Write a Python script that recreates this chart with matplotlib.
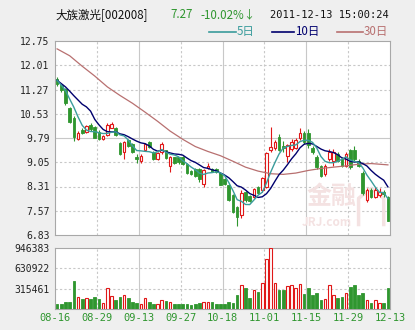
import matplotlib
matplotlib.use('Agg')
import matplotlib.pyplot as plt
import numpy as np
import pandas as pd
from matplotlib.lines import Line2D
from matplotlib.patches import Rectangle

plt.rcParams['font.family'] = ['Noto Sans CJK SC', 'DejaVu Sans']

# daily candles, 2011-08-16 .. 2011-12-13
opens = [11.58, 11.40, 11.29, 10.71, 10.40, 9.77, 10.03, 9.98, 10.19, 10.14,
         9.98, 9.77, 9.88, 10.10, 10.08, 9.64, 9.35, 9.72, 9.61, 9.20,
         9.10, 9.43, 9.66, 9.35, 9.16, 9.35, 9.41, 8.94, 9.20, 9.20,
         9.20, 8.99, 8.78, 8.85, 8.85, 8.40, 8.86, 8.85, 8.85, 8.73,
         8.55, 8.36, 8.05, 7.68, 7.43, 8.13, 8.02, 8.00, 8.31, 8.20,
         8.28, 9.41, 9.47, 9.83, 9.55, 9.25, 9.45, 9.50, 9.78, 9.94,
         9.95, 9.50, 9.20, 8.94, 8.68, 9.15, 9.10, 9.31, 9.15, 8.94,
         9.41, 9.41, 9.10, 8.73, 7.89, 8.20, 8.00, 8.05, 8.15, 8.00]
highs = [11.65, 11.45, 11.32, 10.75, 10.45, 10.00, 10.08, 10.20, 10.26, 10.17,
         10.02, 9.87, 10.26, 10.28, 10.12, 9.68, 9.70, 9.76, 9.64, 9.30,
         9.30, 9.64, 9.70, 9.38, 9.35, 9.66, 9.43, 9.25, 9.22, 9.22,
         9.23, 9.02, 8.80, 8.88, 8.88, 8.85, 9.02, 8.88, 8.87, 8.76,
         8.58, 8.38, 8.08, 7.72, 8.20, 8.16, 8.05, 8.26, 8.34, 8.60,
         9.35, 10.14, 9.72, 9.90, 9.70, 9.62, 9.75, 9.80, 10.10, 10.00,
         10.05, 9.55, 9.28, 8.98, 9.00, 9.45, 9.45, 9.35, 9.20, 9.36,
         9.45, 9.55, 9.15, 8.78, 8.25, 8.25, 8.30, 8.25, 8.20, 8.02]
lows = [11.38, 11.20, 10.80, 10.25, 9.69, 9.72, 9.92, 9.95, 10.00, 9.78,
        9.74, 9.74, 9.85, 10.08, 9.85, 9.27, 9.16, 9.52, 9.33, 9.03,
        9.02, 9.40, 9.48, 9.13, 9.13, 9.30, 9.15, 8.75, 9.00, 9.00,
        8.97, 8.70, 8.66, 8.60, 8.45, 8.30, 8.84, 8.74, 8.72, 8.35,
        8.35, 7.86, 7.50, 7.10, 7.35, 7.85, 7.84, 7.97, 8.07, 8.15,
        8.25, 9.35, 9.42, 9.38, 9.35, 9.05, 9.40, 9.45, 9.72, 9.62,
        9.50, 9.30, 8.85, 8.60, 8.62, 9.10, 8.95, 9.05, 8.90, 8.90,
        8.85, 9.10, 8.90, 8.05, 7.85, 7.95, 7.95, 8.00, 8.00, 7.25]
closes = [11.43, 11.24, 10.87, 10.29, 9.82, 9.95, 9.95, 10.16, 10.06, 9.80,
          9.77, 9.84, 10.19, 10.22, 9.88, 9.30, 9.68, 9.56, 9.35, 9.15,
          9.25, 9.60, 9.51, 9.16, 9.32, 9.60, 9.18, 9.22, 9.04, 9.05,
          9.00, 8.73, 8.70, 8.63, 8.53, 8.80, 8.95, 8.76, 8.75, 8.37,
          8.38, 7.90, 7.52, 7.37, 8.12, 7.90, 7.88, 8.22, 8.10, 8.57,
          9.32, 9.52, 9.66, 9.43, 9.48, 9.57, 9.68, 9.73, 9.94, 9.68,
          9.57, 9.36, 8.89, 8.63, 8.94, 9.36, 9.36, 9.10, 8.94, 9.31,
          8.89, 9.15, 8.94, 8.10, 8.20, 8.00, 8.20, 8.15, 8.08, 7.27]
volumes = [78000, 78000, 108000, 108000, 440000, 186000, 160000, 170000, 150000, 186000,
           155000, 93000, 320000, 200000, 140000, 186000, 217000, 165000, 108000, 93000,
           83000, 165000, 108000, 83000, 78000, 134000, 124000, 108000, 72000, 72000,
           72000, 72000, 67000, 72000, 88000, 108000, 114000, 114000, 78000, 78000,
           72000, 103000, 88000, 217000, 372000, 331000, 176000, 295000, 259000, 398000,
           776000, 946383, 398000, 295000, 295000, 362000, 372000, 320000, 383000, 228000,
           320000, 217000, 243000, 140000, 155000, 372000, 217000, 176000, 191000, 243000,
           346000, 372000, 217000, 243000, 134000, 88000, 134000, 88000, 88000, 320000]

# moving averages before a full window exists
ma5_head = [11.55, 11.40, 11.24, 10.98]
ma10_head = [11.55, 11.45, 11.35, 11.22, 11.08, 10.95, 10.82, 10.74, 10.61]
# 30-day average at some bars (1-based bar number)
ma30_bar = [1, 4, 7, 10, 13, 16, 19, 22, 25, 28, 31, 34, 37, 40, 43, 46, 49, 52,
            55, 58, 61, 64, 67, 70, 73, 76, 80]
ma30_val = [12.51, 12.30, 11.98, 11.68, 11.35, 11.09, 10.85, 10.58, 10.30, 10.00,
            9.75, 9.53, 9.38, 9.25, 9.08, 8.90, 8.78, 8.70, 8.68, 8.72, 8.80,
            8.86, 8.90, 8.94, 8.99, 9.01, 8.97]

date_labels = ['08-16', '08-29', '09-13', '09-27', '10-18', '11-01', '11-15', '11-29', '12-13']
price_ticks = [6.83, 7.57, 8.31, 9.05, 9.79, 10.53, 11.27, 12.01, 12.75]
vol_ticks = [315461, 630922, 946383]

RED = '#e01818'
GREEN = '#2f962f'
TEAL = '#3a9c9c'
NAVY = '#00006e'
BROWN = '#b87070'
GRID = '#c8c8c8'
MARK = '#f4e2e2'

W, H = 415, 330


def fx(px):
  return px / W


def fy(py):
  return 1 - py / H


def style_axes(ax):
  ax.set_facecolor('white')
  for s in ax.spines.values():
    s.set_color('#a8a8a8')
    s.set_linewidth(0.8)
  ax.tick_params(length=0, labelsize=7, colors='#222222', pad=4)


def vgrid(ax, n):
  xt = np.linspace(-0.5, n - 0.5, len(date_labels))
  for k, x in enumerate(xt[1:-1], start=1):
    ax.axvline(x, color=GRID, lw=0.8, ls='-' if k % 2 == 0 else (0, (2, 2)), zorder=0)
  return xt


def draw_plot():
  n = len(closes)
  xs = np.arange(n)
  o = np.array(opens)
  c = np.array(closes)
  up = c >= o

  cl = pd.Series(closes)
  ma5 = cl.rolling(5).mean().to_numpy()
  ma5[:4] = ma5_head
  ma10 = cl.rolling(10).mean().to_numpy()
  ma10[:9] = ma10_head

  fig = plt.figure(figsize=(W / 100, H / 100), dpi=100, facecolor='#efefef')
  ax = fig.add_axes([fx(55), fy(235), fx(335), 194 / H])
  axv = fig.add_axes([fx(55), fy(309), fx(335), 61 / H])

  # price panel
  style_axes(ax)
  ax.set_xlim(-0.5, n - 0.5)
  ax.set_ylim(price_ticks[0], price_ticks[-1])
  ax.set_yticks(price_ticks)
  ax.set_yticklabels(['%.2f' % t for t in price_ticks], family='DejaVu Sans Mono')
  ax.set_xticks([])
  for k, t in enumerate(price_ticks[1:-1], start=1):
    ax.axhline(t, color=GRID, lw=0.8, ls='-' if k == 4 else (0, (2, 2)), zorder=0)
  vgrid(ax, n)

  # site watermark
  ax.text(65.5, 7.98, '金融', fontsize=18, color=MARK, ha='center', va='center',
          family='Noto Sans CJK SC', weight='bold', zorder=1)
  ax.text(64.5, 7.20, 'JRJ.com', fontsize=8.5, color=MARK, ha='center', va='center',
          weight='bold', style='italic', zorder=1)
  ax.plot([72, 72, 75, 78, 78], [7.15, 7.95, 8.25, 7.95, 7.15], color=MARK, lw=2.5, zorder=1)

  ax.vlines(xs, lows, highs, colors=[RED if u else GREEN for u in up], lw=0.8, zorder=3)
  bw = 0.62
  for i in range(n):
    lo, hi = min(o[i], c[i]), max(o[i], c[i])
    h = max(hi - lo, 0.012)
    if up[i]:
      r = Rectangle((i - bw / 2, lo), bw, h, facecolor='white', edgecolor=RED, lw=0.8, zorder=4)
    else:
      r = Rectangle((i - bw / 2, lo), bw, h, facecolor=GREEN, edgecolor=GREEN, lw=0.6, zorder=4)
    ax.add_patch(r)

  ax.plot(np.array(ma30_bar) - 1, ma30_val, color=BROWN, lw=0.9, zorder=5)
  ax.plot(xs, ma10, color=NAVY, lw=1.0, zorder=6)
  ax.plot(xs, ma5, color=TEAL, lw=1.0, zorder=6)

  # volume panel
  style_axes(axv)
  axv.set_xlim(-0.5, n - 0.5)
  axv.set_ylim(0, vol_ticks[-1])
  axv.set_yticks(vol_ticks)
  axv.set_yticklabels([str(t) for t in vol_ticks], family='DejaVu Sans Mono')
  for t in vol_ticks[:-1]:
    axv.axhline(t, color=GRID, lw=0.8, ls=(0, (2, 2)), zorder=0)
  xt = vgrid(axv, n)
  for i in range(n):
    if up[i]:
      axv.bar(i, volumes[i], width=bw, facecolor='white', edgecolor=RED, lw=0.8, zorder=3)
    else:
      axv.bar(i, volumes[i], width=bw, facecolor=GREEN, edgecolor=GREEN, lw=0.6, zorder=3)
  axv.set_xticks(xt)
  axv.set_xticklabels(date_labels, family='DejaVu Sans Mono', color=GREEN, fontsize=7.5)
  axv.tick_params(axis='x', pad=3)

  # header
  fs = 8.3
  fig.text(fx(55), fy(15), '大族激光[002008]', fontsize=fs, color='#111111', va='center')
  fig.text(fx(170), fy(15), '7.27', fontsize=fs, color=GREEN, va='center')
  fig.text(fx(200), fy(15), '-10.02%↓', fontsize=fs, color=GREEN, va='center')
  fig.text(fx(389), fy(15), '2011-12-13 15:00:24', fontsize=7.5, color='#111111',
           va='center', ha='right', family='DejaVu Sans Mono')
  legend = [(209, 236, TEAL, '5日'), (272, 294, NAVY, '10日'), (337, 363, BROWN, '30日')]
  for x0, x1, col, txt in legend:
    fig.add_artist(Line2D([fx(x0), fx(x1)], [fy(32), fy(32)], color=col, lw=1.2))
    fig.text(fx(x1 + 1), fy(32), txt, fontsize=fs, color=col, va='center')

  fig.savefig('out.png', dpi=100, facecolor=fig.get_facecolor())


if __name__ == "__main__":
  draw_plot()
